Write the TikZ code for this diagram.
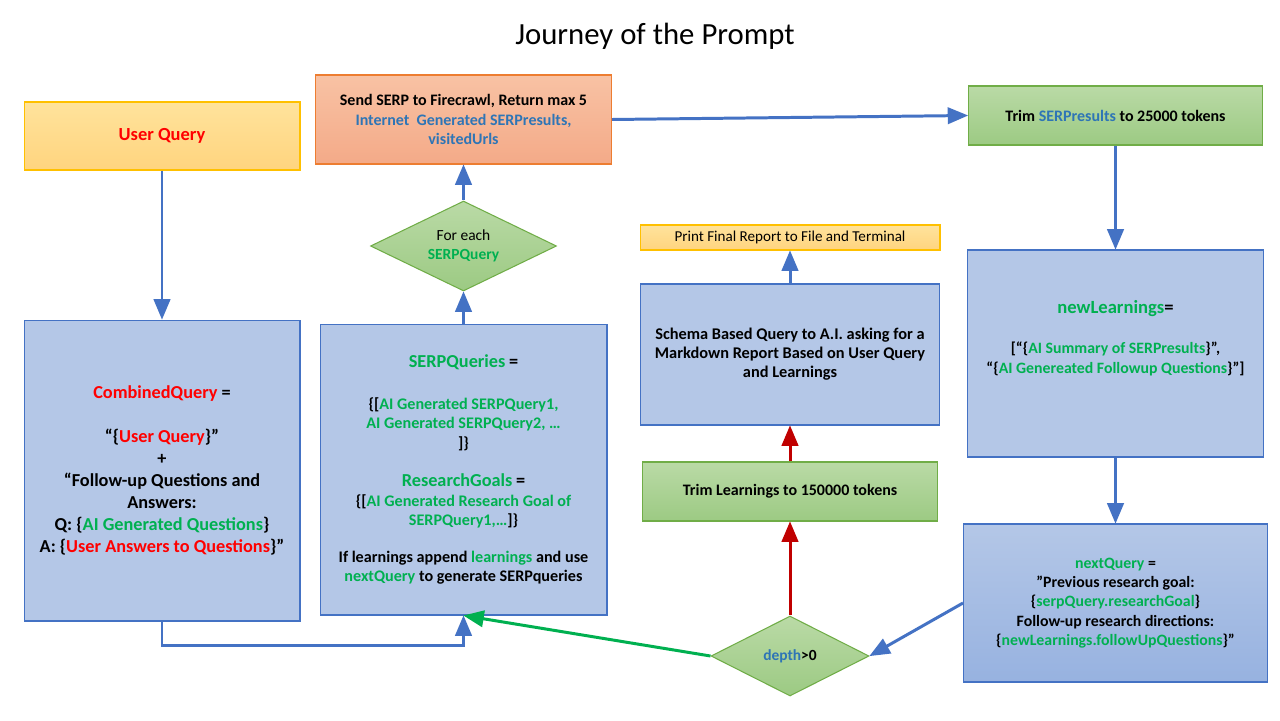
\documentclass[tikz,border=0pt]{standalone}
\usepackage{fontspec}
\setmainfont{Carlito}
\usetikzlibrary{shapes.geometric, arrows}
\definecolor{cred}{HTML}{FF0000}
\definecolor{cgreen}{HTML}{00B050}
\definecolor{cblue}{HTML}{2E75B6}
\definecolor{lineblue}{HTML}{4472C4}
\definecolor{linered}{HTML}{C00000}
\definecolor{linegreen}{HTML}{00B050}
\definecolor{procfill}{HTML}{B4C7E7}
\definecolor{procbot}{HTML}{97B2E0}
\definecolor{yline}{HTML}{FFC000}
\definecolor{ytop}{HTML}{FFE39C}
\definecolor{ybot}{HTML}{FFD47E}
\definecolor{oline}{HTML}{ED7D31}
\definecolor{otop}{HTML}{F8C2A4}
\definecolor{obot}{HTML}{F4AA88}
\definecolor{gline}{HTML}{70AD47}
\definecolor{gtop}{HTML}{BADAA6}
\definecolor{gbot}{HTML}{9CCA83}
\tikzstyle{arrow} = [line width=1.7pt,->,>=triangle 45,draw=lineblue]
\tikzstyle{userbox} = [rectangle, text centered, align=center, draw=yline, line width=0.6pt, top color=ytop, bottom color=ybot]
\tikzstyle{firecrawl} = [rectangle, text centered, align=center, draw=oline, line width=0.6pt, top color=otop, bottom color=obot]
\tikzstyle{process} = [rectangle, text centered, align=center, draw=lineblue, line width=0.6pt, fill=procfill]
\tikzstyle{trim} = [rectangle, text centered, align=center, draw=gline, line width=0.6pt, top color=gtop, bottom color=gbot]
\tikzstyle{decision} = [diamond, aspect=2, inner sep=0pt, text centered, align=center, draw=gline, line width=0.6pt, top color=gtop, bottom color=gbot]
\begin{document}
\begin{tikzpicture}[x=0.02cm, y=-0.02cm]
\fill [white] (0,0) rectangle (1280,720);
\useasboundingbox (0,0) rectangle (1280,720);
\node (title) at (655,36) {\fontsize{17.5}{20}\selectfont Journey of the Prompt};
% left column
\node (userq) [userbox, minimum width=5.52cm, minimum height=1.36cm, font=\bfseries\fontsize{10.5}{12.5}\selectfont] at (162,136) {\color{cred}User Query};
\node (combined) [process, minimum width=5.52cm, minimum height=6.02cm, font=\bfseries\fontsize{10.4}{12.6}\selectfont] at (162,470.5)
 {{\color{cred}CombinedQuery} =\\[12.5pt]
 “\{{\color{cred}User Query}\}”\\
 +\\
 “Follow-up Questions and\\
 Answers:\\
 Q: \{{\color{cgreen}AI Generated Questions}\}\\
 A: \{{\color{cred}User Answers to Questions}\}”};
% middle column
\node (serp) [firecrawl, minimum width=5.92cm, minimum height=1.78cm, font=\bfseries\fontsize{9.1}{11.3}\selectfont] at (463.5,119.5)
 {Send SERP to Firecrawl, Return max 5\\
 {\color{cblue}Internet\ \ Generated SERPresults,}\\
 {\color{cblue}visitedUrls}};
\node (foreach) [decision, minimum width=3.72cm, minimum height=1.8cm, font=\fontsize{8.8}{10.8}\selectfont] at (463.5,246)
 {For each\\ \textbf{\color{cgreen}SERPQuery}};
\node (serpq) [process, minimum width=5.74cm, minimum height=5.82cm, font=\bfseries\fontsize{9.2}{11}\selectfont] at (463.5,469.5)
 {{\fontsize{10.4}{11}\selectfont\color{cgreen}SERPQueries} {\fontsize{10.4}{11}\selectfont =}\\[13pt]
 \{[{\color{cgreen}AI Generated SERPQuery1,}\\
 {\color{cgreen}AI Generated SERPQuery2, …}\\
 ]\}\\[11pt]
 {\fontsize{10.4}{11}\selectfont\color{cgreen}ResearchGoals} {\fontsize{10.4}{11}\selectfont =}\\
 \{[{\color{cgreen}AI Generated Research Goal of}\\
 {\color{cgreen}SERPQuery1,…}]\}\\[10pt]
 If learnings append {\color{cgreen}learnings} and use\\
 {\color{cgreen}nextQuery} to generate SERPqueries};
% report column
\node (print) [userbox, minimum width=6cm, minimum height=0.5cm, inner sep=0pt, font=\fontsize{8.6}{9}\selectfont] at (790,237.5)
 {Print Final Report to File and Terminal};
\node (schema) [process, minimum width=5.98cm, minimum height=2.82cm, font=\bfseries\fontsize{9.3}{10.8}\selectfont] at (790,354.5)
 {Schema Based Query to A.I. asking for a\\
 Markdown Report Based on User Query\\
 and Learnings};
\node (trimL) [trim, minimum width=5.9cm, minimum height=1.18cm, font=\bfseries\fontsize{9.1}{10.8}\selectfont] at (790,491.5)
 {Trim Learnings to 150000 tokens};
\node (depth) [decision, minimum width=3.16cm, minimum height=1.6cm, font=\bfseries\fontsize{8.8}{10.8}\selectfont] at (790,656)
 {{\color{cblue}depth}>0};
% right column
\node (trimS) [trim, minimum width=5.88cm, minimum height=1.18cm, font=\bfseries\fontsize{9.1}{10.8}\selectfont] at (1115.5,115.5)
 {Trim {\color{cblue}SERPresults} to 25000 tokens};
\node (newL) [process, minimum width=5.92cm, minimum height=4.14cm, font=\bfseries\fontsize{9}{11}\selectfont] at (1115.5,353.5)
 {{\fontsize{10.6}{11}\selectfont\color{cgreen}newLearnings}{\fontsize{10.6}{11}\selectfont =}\\[12pt]
 [“\{{\color{cgreen}AI Summary of SERPresults}\}”,\\
 “\{{\color{cgreen}AI Genereated Followup Questions}\}”]\\[8pt]
 \mbox{}};
\node (nextQ) [process, top color=procfill, bottom color=procbot, minimum width=6.08cm, minimum height=3.16cm, font=\bfseries\fontsize{9}{11}\selectfont] at (1115.5,603)
 {{\color{cgreen}nextQuery} =\\
 ”Previous research goal:\\
 \{{\color{cgreen}serpQuery.researchGoal}\}\\
 Follow-up research directions:\\
 \{{\color{cgreen}newLearnings.followUpQuestions}\}”};
% connectors
\draw [arrow] (userq) -- (combined);
\draw [arrow] (combined.south) -- ++(0,24) -| (serpq.south);
\draw [arrow] (serpq) -- (foreach);
\draw [arrow] (foreach) -- (serp);
\draw [arrow] (serp.east) -- (trimS.west);
\draw [arrow] (trimS) -- (newL);
\draw [arrow] (newL) -- (nextQ);
\draw [arrow] (nextQ.west) -- (depth.east);
\draw [arrow, draw=linegreen] (depth.west) -- (serpq.south);
\draw [arrow, draw=linered] (depth) -- (trimL);
\draw [arrow, draw=linered] (trimL) -- (schema);
\draw [arrow] (schema) -- (print);
\end{tikzpicture}
\end{document}
